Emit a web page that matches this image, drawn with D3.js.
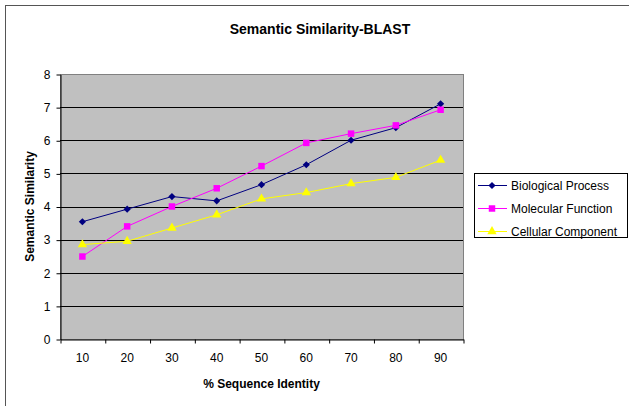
<!DOCTYPE html>
<html>
<head>
<meta charset="utf-8">
<script src="https://cdn.jsdelivr.net/npm/d3@7"></script>
<style>
  body { margin: 0; background: #fff; }
  svg { display: block; font-family: Arial, "Liberation Sans", sans-serif; }
</style>
</head>
<body>
<svg width="629" height="406"></svg>
<script>
var identity = ['10', '20', '30', '40', '50', '60', '70', '80', '90'];
var biological = [3.54, 3.92, 4.3, 4.17, 4.66, 5.26, 6.0, 6.38, 7.1];
var molecular = [2.49, 3.4, 4.0, 4.55, 5.22, 5.92, 6.2, 6.45, 6.92];
var cellular = [2.85, 2.95, 3.35, 3.75, 4.23, 4.42, 4.69, 4.88, 5.4];
var seriesNames = ['Biological Process', 'Molecular Function', 'Cellular Component'];
var yTicks = [0, 1, 2, 3, 4, 5, 6, 7, 8];

var svg = d3.select('svg');

var plotLeft = 60, plotRight = 463, plotTop = 74, plotBottom = 339;

var series = [
  { name: seriesNames[0], values: biological, color: '#000080', symbol: d3.symbolSquare, size: 26, rotate: 45 },
  { name: seriesNames[1], values: molecular, color: '#ff00ff', symbol: d3.symbolSquare, size: 42, rotate: 0 },
  { name: seriesNames[2], values: cellular, color: '#ffff00', symbol: d3.symbolTriangle, size: 38, rotate: 0 }
];

// outer chart border (runs off the right and bottom edges)
svg.append('rect')
  .attr('x', 5.5).attr('y', 5.5)
  .attr('width', 640).attr('height', 420)
  .attr('fill', 'none')
  .attr('stroke', '#555');

var x = d3.scaleBand().domain(identity).range([plotLeft, plotRight]);
var xEdge = d3.scaleLinear().domain([0, identity.length]).range([plotLeft, plotRight]);
var y = d3.scaleLinear().domain([0, 8]).range([plotBottom, plotTop]);

// plot area
svg.append('rect')
  .attr('x', plotLeft + 0.5).attr('y', plotTop + 0.5)
  .attr('width', plotRight - plotLeft).attr('height', plotBottom - plotTop)
  .attr('fill', '#c0c0c0')
  .attr('stroke', '#808080');

// gridlines
svg.append('g')
  .selectAll('line')
  .data(yTicks.slice(1, -1))
  .enter()
  .append('line')
  .attr('x1', plotLeft).attr('x2', plotRight)
  .attr('y1', function (d) { return Math.round(y(d)) + 0.5; })
  .attr('y2', function (d) { return Math.round(y(d)) + 0.5; })
  .attr('stroke', '#000');

// y axis
var yAxis = svg.append('g')
  .attr('transform', 'translate(' + (plotLeft + 0.5) + ',0.5)')
  .call(d3.axisLeft(y).tickValues(yTicks).tickSize(4).tickPadding(6).tickSizeOuter(0));
yAxis.select('.domain').attr('stroke', '#000');
yAxis.selectAll('.tick line').attr('stroke', '#000');
yAxis.selectAll('text').style('font-size', '12px').attr('fill', '#000');

// x axis: ticks between categories
var xTicks = svg.append('g')
  .attr('transform', 'translate(0.5,' + (plotBottom + 0.5) + ')')
  .call(d3.axisBottom(xEdge).tickValues(d3.range(identity.length + 1)).tickFormat('').tickSize(4).tickSizeOuter(0));
xTicks.select('.domain').attr('stroke', '#000');
xTicks.selectAll('.tick line').attr('stroke', '#000');

var xLabels = svg.append('g')
  .attr('transform', 'translate(0,' + (plotBottom + 0.5) + ')')
  .call(d3.axisBottom(x).tickSize(0).tickPadding(14));
xLabels.select('.domain').remove();
xLabels.selectAll('text').style('font-size', '12px').attr('fill', '#000');

// lines and markers
var line = d3.line()
  .x(function (d, i) { return x(identity[i]) + x.bandwidth() / 2; })
  .y(function (d) { return y(d); });

series.forEach(function (s) {
  svg.append('path')
    .datum(s.values)
    .attr('d', line)
    .attr('fill', 'none')
    .attr('stroke', s.color)
    .attr('stroke-width', 1);

  svg.append('g')
    .selectAll('path')
    .data(s.values)
    .enter()
    .append('path')
    .attr('d', d3.symbol().type(s.symbol).size(s.size))
    .attr('transform', function (d, i) {
      return 'translate(' + (x(identity[i]) + x.bandwidth() / 2) + ',' + y(d) + ') rotate(' + s.rotate + ')';
    })
    .attr('fill', s.color);
});

// titles
svg.append('text')
  .attr('x', 320).attr('y', 34)
  .attr('text-anchor', 'middle')
  .style('font-size', '14px')
  .style('font-weight', 'bold')
  .text('Semantic Similarity-BLAST');

svg.append('text')
  .attr('transform', 'translate(34,' + ((plotTop + plotBottom) / 2) + ') rotate(-90)')
  .attr('text-anchor', 'middle')
  .style('font-size', '12px')
  .style('font-weight', 'bold')
  .text('Semantic Similarity');

svg.append('text')
  .attr('x', (plotLeft + plotRight) / 2).attr('y', 388)
  .attr('text-anchor', 'middle')
  .style('font-size', '12px')
  .style('font-weight', 'bold')
  .text('% Sequence Identity');

// legend
var legend = svg.append('g').attr('transform', 'translate(474,173)');
legend.append('rect')
  .attr('x', 0.5).attr('y', 0.5)
  .attr('width', 153).attr('height', 64)
  .attr('fill', '#fff')
  .attr('stroke', '#000');

var item = legend.selectAll('.item')
  .data(series)
  .enter()
  .append('g')
  .attr('class', 'item')
  .attr('transform', function (d, i) { return 'translate(0,' + (12.5 + i * 23) + ')'; });

item.append('line')
  .attr('x1', 4).attr('x2', 33)
  .attr('stroke', function (d) { return d.color; });
item.append('path')
  .attr('d', function (d) { return d3.symbol().type(d.symbol).size(d.size)(); })
  .attr('transform', function (d) { return 'translate(18,0) rotate(' + d.rotate + ')'; })
  .attr('fill', function (d) { return d.color; });
item.append('text')
  .attr('x', 37).attr('y', 4)
  .style('font-size', '12px')
  .text(function (d) { return d.name; });
</script>
</body>
</html>
